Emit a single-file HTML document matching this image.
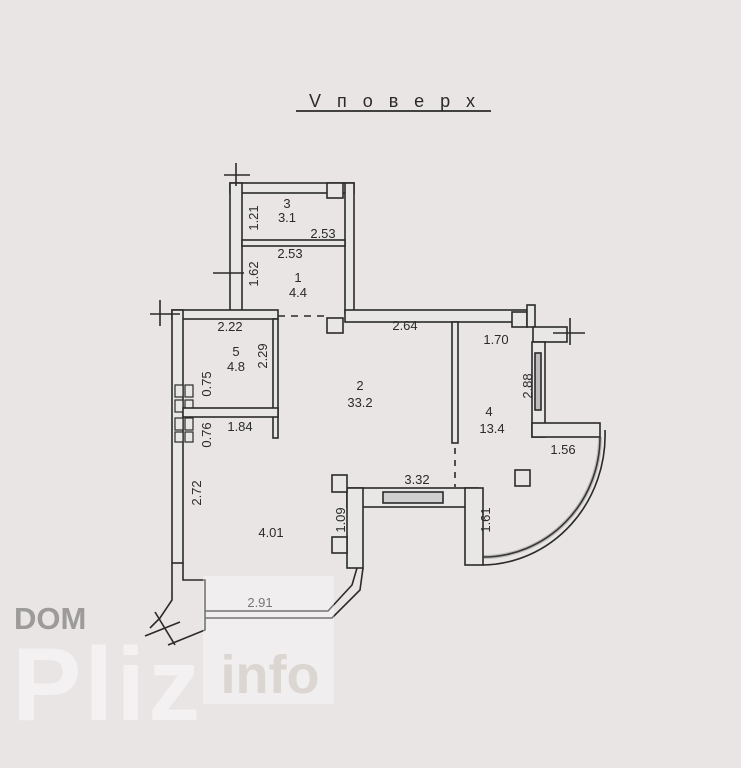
<!DOCTYPE html>
<html><head><meta charset="utf-8"><style>
html,body{margin:0;padding:0;background:#e8e5e5;}
svg{display:block}
text{font-family:"Liberation Sans",sans-serif;fill:#2a2a2a;font-size:13px;text-anchor:middle}
</style></head><body>
<svg width="741" height="768" viewBox="0 0 741 768" xmlns="http://www.w3.org/2000/svg">
<rect width="741" height="768" fill="#e9e5e5"/>
<g fill="#e9e6e6" stroke="#2a2a2a" stroke-width="1.6">
<rect x="230" y="183" width="124" height="10"/>
<rect x="230" y="183" width="12" height="129"/>
<rect x="345" y="183" width="9" height="130"/>
<rect x="327" y="183" width="16" height="15"/>
<rect x="242" y="240" width="103" height="6"/>
<rect x="172" y="310" width="106" height="9"/>
<rect x="345" y="310" width="188" height="12"/>
<rect x="327" y="318" width="16" height="15"/>
<rect x="512" y="312" width="15" height="15"/>
<rect x="527" y="305" width="8" height="22"/>
<rect x="533" y="327" width="34" height="15"/>
<rect x="532" y="342" width="13" height="95"/>
<rect x="535" y="353" width="6" height="57" fill="#bdbdbd"/>
<rect x="532" y="423" width="68" height="14"/>
<path d="M600 437 A117 120 0 0 1 483 557" fill="none"/>
<path d="M605 430 A124 130 0 0 1 483 565" fill="none"/>
<path d="M600 437 A117 120 0 0 1 483 557" fill="none" stroke-width="4" stroke="#555" opacity=".3"/>
<rect x="452" y="322" width="6" height="121"/>
<line x1="455" y1="448" x2="455" y2="487" stroke-dasharray="6,6"/>
<rect x="347" y="488" width="131" height="19"/>
<rect x="383" y="492" width="60" height="11" fill="#cfcfcf"/>
<rect x="347" y="488" width="16" height="80"/>
<rect x="465" y="488" width="18" height="77"/>
<rect x="332" y="475" width="15" height="17"/>
<rect x="332" y="537" width="15" height="16"/>
<rect x="172" y="310" width="11" height="253"/>
<g stroke-width="1.2"><rect x="175" y="385" width="8" height="12"/><rect x="185" y="385" width="8" height="12"/>
<rect x="175" y="400" width="8" height="12"/><rect x="185" y="400" width="8" height="12"/>
<rect x="175" y="418" width="8" height="12"/><rect x="185" y="418" width="8" height="12"/>
<rect x="175" y="432" width="8" height="10"/><rect x="185" y="432" width="8" height="10"/></g>
<rect x="273" y="319" width="5" height="119"/>
<rect x="183" y="408" width="95" height="9"/>
<line x1="278" y1="316" x2="327" y2="316" stroke-dasharray="7,6"/>
<line x1="213" y1="273" x2="244" y2="273"/>
</g>
<g fill="none" stroke="#2a2a2a" stroke-width="1.6">
<line x1="236" y1="163" x2="236" y2="186"/><line x1="224" y1="175" x2="250" y2="175"/>
<line x1="150" y1="314" x2="180" y2="314"/><line x1="160" y1="300" x2="160" y2="326"/>
<line x1="553" y1="333" x2="585" y2="333"/><line x1="570" y1="318" x2="570" y2="345"/>
<polyline points="172,563 172,600 160,618 150,628"/>
<polyline points="183,563 183,580 205,580 205,612"/>
<polyline points="205,612 205,630 168,645"/>
<line x1="155" y1="612" x2="175" y2="645"/>
<line x1="145" y1="636" x2="180" y2="622"/>
<polyline points="205,611 328,611 352,585 357,568"/>
<polyline points="205,618 332,618 360,590 363,568"/>
<line x1="296" y1="111" x2="491" y2="111" stroke-width="1.8"/>
</g>
<rect x="515" y="470" width="15" height="16" fill="none" stroke="#2a2a2a" stroke-width="1.6"/>
<text x="400" y="107" style="font-size:18px;letter-spacing:16px">Vповерх</text>
<text x="287" y="208">3</text><text x="287" y="222">3.1</text>
<text transform="translate(258,218) rotate(-90)">1.21</text>
<text x="323" y="238">2.53</text><text x="290" y="258">2.53</text>
<text x="298" y="282">1</text><text x="298" y="297">4.4</text>
<text transform="translate(258,274) rotate(-90)">1.62</text>
<text x="230" y="331">2.22</text>
<text x="236" y="356">5</text><text x="236" y="371">4.8</text>
<text transform="translate(267,356) rotate(-90)">2.29</text>
<text transform="translate(211,384) rotate(-90)">0.75</text>
<text transform="translate(211,435) rotate(-90)">0.76</text>
<text x="240" y="431">1.84</text>
<text x="360" y="390">2</text><text x="360" y="407">33.2</text>
<text x="405" y="330">2.64</text>
<text x="496" y="344">1.70</text>
<text transform="translate(532,386) rotate(-90)">2.88</text>
<text x="489" y="416">4</text><text x="492" y="433">13.4</text>
<text x="563" y="454">1.56</text>
<text x="417" y="484">3.32</text>
<text transform="translate(345,520) rotate(-90)">1.09</text>
<text transform="translate(490,520) rotate(-90)">1.61</text>
<text transform="translate(201,493) rotate(-90)">2.72</text>
<text x="271" y="537">4.01</text>
<rect x="203" y="576" width="131" height="128" fill="#fff" opacity=".35"/>
<text x="260" y="607" style="fill:#777">2.91</text>
<text x="14" y="629" style="font-size:31px;font-weight:bold;fill:#9c9a9a;text-anchor:start">DOM</text>
<text x="12" y="720" style="font-size:104px;font-weight:bold;fill:#f3f1f1;text-anchor:start;letter-spacing:3px">Pliz</text>
<text x="270" y="693" style="font-size:54px;font-weight:bold;fill:#dcd6d2;">info</text>
</svg>
</body></html>
